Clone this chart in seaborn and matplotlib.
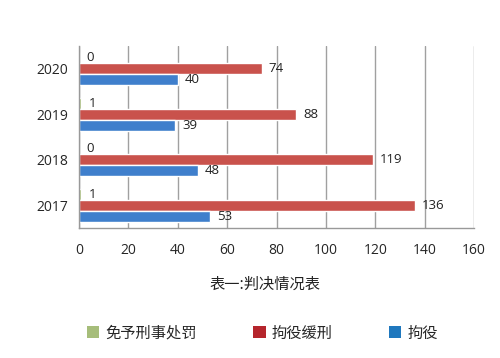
import numpy as np
import pandas as pd
import matplotlib
matplotlib.use("Agg")
import matplotlib.pyplot as plt
from matplotlib.patches import Patch
import seaborn as sns

years = ["2020", "2019", "2018", "2017"]
series = ["免予刑事处罚", "拘役缓刑", "拘役"]
mianyu = [0, 1, 0, 1]
huanxing = [74, 88, 119, 136]
juyi = [40, 39, 48, 53]

bar_colors = ["#9bbb59", "#c9524c", "#3f7fcc"]
legend_colors = ["#a6bd7a", "#b5252c", "#1f78be"]

df = pd.DataFrame({
    "year": years * 3,
    "kind": [series[0]] * 4 + [series[1]] * 4 + [series[2]] * 4,
    "count": mianyu + huanxing + juyi,
})

sns.set_style("white")
plt.rcParams["font.family"] = ["Open Sans", "Noto Sans CJK SC", "DejaVu Sans"]

fig = plt.figure(figsize=(5, 3.58), dpi=100)
ax = fig.add_axes([0.158, 0.363, 0.79, 0.509])

sns.barplot(data=df, y="year", x="count", hue="kind", order=years,
            hue_order=series, palette=bar_colors, orient="h", width=0.72,
            saturation=1, legend=False, ax=ax)

for cont in ax.containers:
    ax.bar_label(cont, padding=5, fontsize=9.5, color="#222222")

ax.set_xlim(0, 160)
ax.set_xticks(np.arange(0, 161, 20))
ax.set_ylim(3.5, -0.5)
ax.set_yticks(range(4))
ax.set_yticks(np.arange(-0.5, 4, 1), minor=True)
ax.tick_params(axis="y", which="major", length=0, labelsize=10, pad=8)
ax.tick_params(axis="y", which="minor", length=5, color="#999999", direction="out")
ax.tick_params(axis="x", length=5, color="#999999", labelsize=10, pad=6)
ax.set_xlabel("")
ax.set_ylabel("")
ax.xaxis.grid(True, color="#a0a0a0", lw=1)
ax.set_axisbelow(True)
for s in ["top", "right"]:
    ax.spines[s].set_visible(False)
for s in ["left", "bottom"]:
    ax.spines[s].set_color("#999999")
    ax.spines[s].set_linewidth(1)

fig.text(0.53, 0.207, "表一:判决情况表", ha="center", va="center",
         fontsize=11, family=["Noto Sans CJK SC"], color="#222222")

handles = [Patch(facecolor=c, edgecolor="none") for c in legend_colors]
fig.legend(handles, series, loc="center", bbox_to_anchor=(0.525, 0.07), ncol=3,
           frameon=False, handlelength=0.8, handleheight=0.8, handletextpad=0.4,
           columnspacing=3.7, prop={"family": "Noto Sans CJK SC", "size": 11})

fig.savefig("out.png", dpi=100)
